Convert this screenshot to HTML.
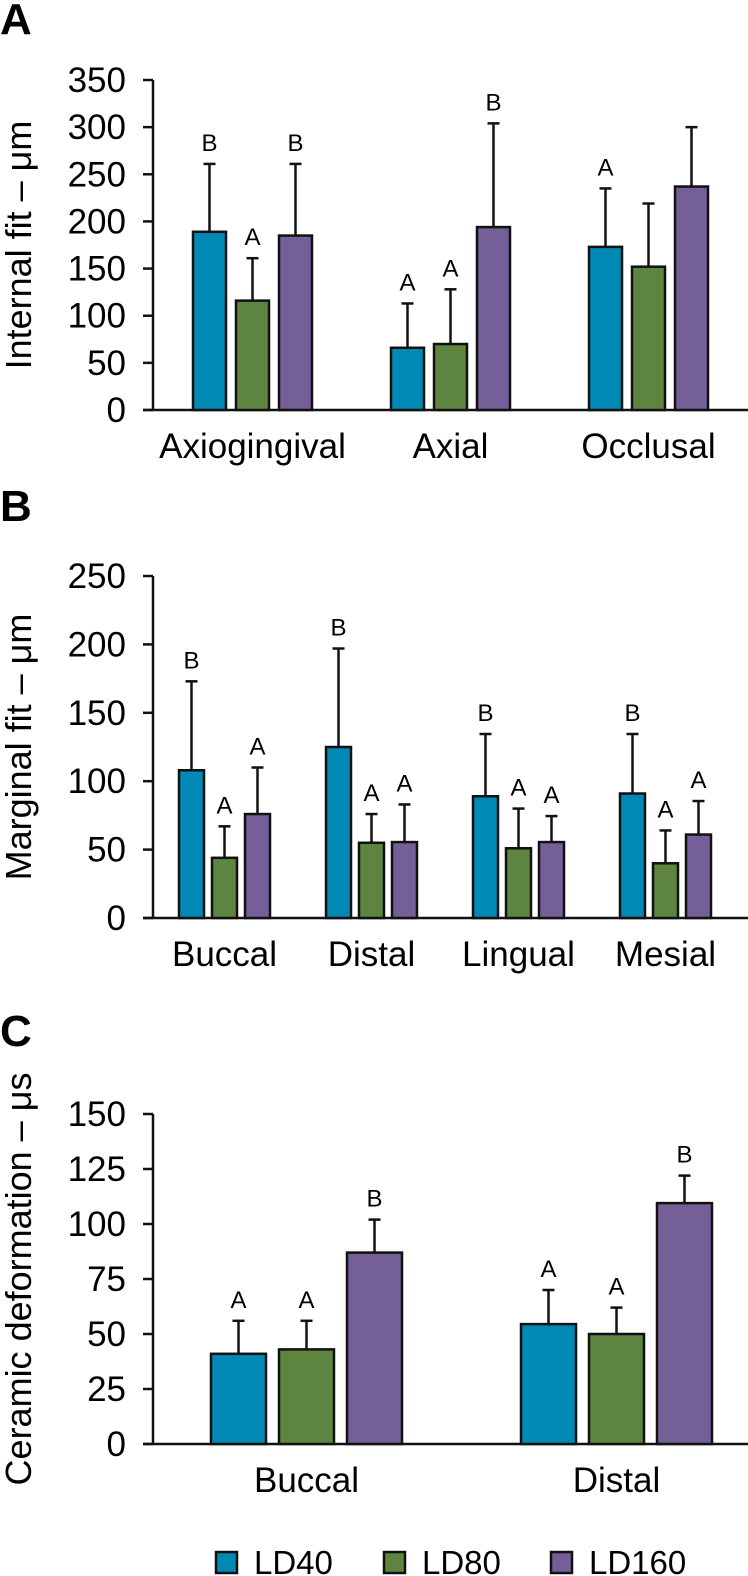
<!DOCTYPE html>
<html><head><meta charset="utf-8"><style>
html,body{margin:0;padding:0;background:#fff;}
svg{display:block;font-family:"Liberation Sans","DejaVu Sans",sans-serif;}
</style></head><body>
<svg id="fig" width="748" height="1576" viewBox="0 0 748 1576" xmlns="http://www.w3.org/2000/svg">
<text x="0" y="34" font-size="44" font-weight="bold">A</text>
<text x="0" y="521" font-size="44" font-weight="bold">B</text>
<text x="0" y="1046" font-size="44" font-weight="bold">C</text>
<g id="legend">
<g><rect x="216" y="1552" width="21" height="21" fill="#0089b4" stroke="#111" stroke-width="2.5"/><text x="254" y="1574" font-size="33">LD40</text></g>
<g><rect x="384" y="1552" width="21" height="21" fill="#5d8540" stroke="#111" stroke-width="2.5"/><text x="422" y="1574" font-size="33">LD80</text></g>
<g><rect x="551" y="1552" width="21" height="21" fill="#745f98" stroke="#111" stroke-width="2.5"/><text x="589" y="1574" font-size="33">LD160</text></g>
</g>
</svg>
<script>
// Panel A data
const catsA = ["Axiogingival","Axial","Occlusal"];
const ld40A = [189, 66, 173];
const ld80A = [116, 70, 152];
const ld160A = [185, 194, 237];
const ld40ErrA = [261, 113, 235];
const ld80ErrA = [161, 128, 219];
const ld160ErrA = [261, 304, 300];
const lettersA = [["B","A","B"],["A","A","B"],["A","",""]];
const ticksA = [0,50,100,150,200,250,300,350];
// Panel B data
const catsB = ["Buccal","Distal","Lingual","Mesial"];
const ld40B = [108, 125, 89, 91];
const ld80B = [44, 55, 51, 40];
const ld160B = [76, 55.5, 55.5, 61];
const ld40ErrB = [173, 197, 134.5, 134.5];
const ld80ErrB = [67, 76, 80, 64];
const ld160ErrB = [110, 83, 74.5, 85.5];
const lettersB = [["B","A","A"],["B","A","A"],["B","A","A"],["B","A","A"]];
const ticksB = [0,50,100,150,200,250];
// Panel C data
const catsC = ["Buccal","Distal"];
const ld40C = [41, 54.5];
const ld80C = [43, 50];
const ld160C = [87, 109.5];
const ld40ErrC = [56, 70];
const ld80ErrC = [56, 62];
const ld160ErrC = [102, 122];
const lettersC = [["A","A","B"],["A","A","B"]];
const ticksC = [0,25,50,75,100,125,150];

const NS = "http://www.w3.org/2000/svg";
const svg = document.getElementById("fig");
const colors = ["#0089b4","#5d8540","#745f98"];
const sNames = ["ld40","ld80","ld160"];
function mk(tag, attrs, parent){
  const e = document.createElementNS(NS, tag);
  for (const k in attrs) e.setAttribute(k, attrs[k]);
  parent.appendChild(e);
  return e;
}
function panel(cfg){
  const g = mk("g", {}, svg);
  
  
  const ax = 153;
  const y = v => cfg.y0 - v * (cfg.y0 - cfg.yTop) / cfg.max;
  const yl = mk("line", {x1:ax, y1:y(cfg.max), x2:ax, y2:cfg.y0, stroke:"#111","stroke-width":2.5}, g);
  
  
  const xl = mk("line", {x1:143, y1:cfg.y0, x2:748, y2:cfg.y0, stroke:"#111","stroke-width":2.5}, g);
  
  
  cfg.ticks.forEach(t => {
    mk("line", {x1:143, y1:y(t), x2:ax, y2:y(t), stroke:"#111","stroke-width":2.5}, g);
    const tl = mk("text", {x:126, y:y(t)+12, "font-size":35, "text-anchor":"end"}, g);
    tl.textContent = t;
    
    
  });
  const tt = mk("text", {x:0, y:0, "font-size":36, "text-anchor":"middle",
    transform:`translate(31,${(y(cfg.max)+cfg.y0)/2}) rotate(-90)`}, g);
  tt.textContent = cfg.title;
  
  
  cfg.cats.forEach((c, i) => {
    const gx = cfg.start + i * cfg.step;
    for (let s = 0; s < 3; s++){
      const v = cfg.vals[s][i], e = cfg.errs[s][i];
      const x = gx + s * cfg.stride;
      const cx = x + cfg.bw / 2;
      const el = mk("line", {x1:cx, y1:y(v), x2:cx, y2:y(e), stroke:"#111","stroke-width":2.5}, g);
      
      
      mk("line", {x1:cx-6, y1:y(e), x2:cx+6, y2:y(e), stroke:"#111","stroke-width":2.5}, g);
      const r = mk("rect", {x:x, y:y(v), width:cfg.bw, height:cfg.y0 - y(v), fill:colors[s], stroke:"#111","stroke-width":2.5}, g);
      
      
      const L = cfg.letters[i][s];
      if (L){
        const lt = mk("text", {x:cx, y:y(e)-13, "font-size":24, "text-anchor":"middle"}, g);
        lt.textContent = L;
        
        
      }
    }
    const center = gx + (2 * cfg.stride + cfg.bw) / 2;
    const cl = mk("text", {x:center, y:cfg.y0 + 48, "font-size":35, "text-anchor":"middle"}, g);
    cl.textContent = c;
    
    
  });
}
panel({name:"panel-a-internal-fit", cats:catsA, vals:[ld40A,ld80A,ld160A], errs:[ld40ErrA,ld80ErrA,ld160ErrA],
  letters:lettersA, ticks:ticksA, max:350, y0:410, yTop:80, start:193, step:198, stride:43, bw:33, title:"Internal fit – μm"});
panel({name:"panel-b-marginal-fit", cats:catsB, vals:[ld40B,ld80B,ld160B], errs:[ld40ErrB,ld80ErrB,ld160ErrB],
  letters:lettersB, ticks:ticksB, max:250, y0:918, yTop:576, start:179, step:147, stride:33, bw:25, title:"Marginal fit – μm"});
panel({name:"panel-c-ceramic-deformation", cats:catsC, vals:[ld40C,ld80C,ld160C], errs:[ld40ErrC,ld80ErrC,ld160ErrC],
  letters:lettersC, ticks:ticksC, max:150, y0:1444, yTop:1114, start:211, step:310, stride:68, bw:55, title:"Ceramic deformation – μs"});
</script>
</body></html>
